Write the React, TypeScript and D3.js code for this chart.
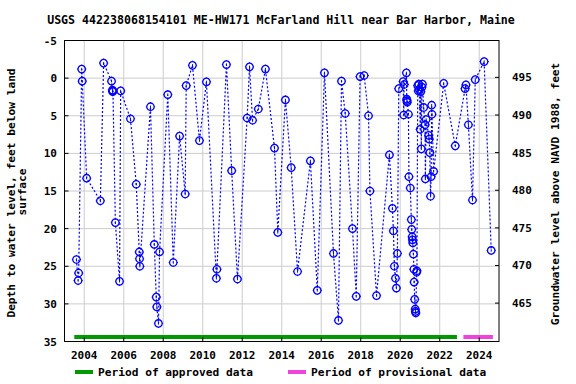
import React from 'react';
import * as d3 from 'd3';

const TITLE = 'USGS 442238068154101 ME-HW171 McFarland Hill near Bar Harbor, Maine';

// sample dates and depth to water (ft below land surface)
const dates = [
  '2003-08-10', '2003-09-10', '2003-09-20', '2003-11-15', '2003-11-25', '2004-02-15', '2004-10-25', '2004-12-25',
  '2005-05-20', '2005-06-05', '2005-06-10', '2005-06-15', '2005-07-30', '2005-10-15', '2005-11-05', '2006-05-05',
  '2006-08-20', '2006-10-15', '2006-10-20', '2006-10-25', '2007-05-10', '2007-07-20', '2007-08-25', '2007-09-05',
  '2007-10-05', '2007-10-25', '2008-03-25', '2008-07-05', '2008-10-30', '2009-02-10', '2009-03-01', '2009-06-25',
  '2009-11-01', '2010-03-10', '2010-09-10', '2010-09-20', '2011-03-15', '2011-06-20', '2011-10-05', '2012-04-01',
  '2012-05-15', '2012-07-10', '2012-10-25', '2013-03-05', '2013-08-20', '2013-10-20', '2014-03-10', '2014-06-25',
  '2014-10-20', '2015-06-15', '2015-10-20', '2016-03-01', '2016-08-15', '2016-11-15', '2017-01-10', '2017-03-20',
  '2017-08-01', '2017-10-10', '2017-12-20', '2018-03-05', '2018-05-25', '2018-06-20', '2018-10-20', '2019-06-15',
  '2019-08-10', '2019-08-28', '2019-09-15', '2019-10-05', '2019-10-22', '2019-11-10', '2019-12-05', '2020-02-25',
  '2020-03-05', '2020-03-15', '2020-04-25', '2020-05-01', '2020-05-05', '2020-05-10', '2020-06-01', '2020-06-10',
  '2020-07-05', '2020-07-25', '2020-08-01', '2020-08-10', '2020-08-15', '2020-08-22', '2020-09-01', '2020-09-10',
  '2020-09-15', '2020-09-25', '2020-10-05', '2020-10-10', '2020-10-15', '2020-10-30', '2020-11-05', '2020-11-20',
  '2020-12-01', '2020-12-10', '2020-12-20', '2021-01-05', '2021-01-15', '2021-01-25', '2021-02-05', '2021-02-15',
  '2021-03-10', '2021-04-05', '2021-04-10', '2021-04-25', '2021-06-10', '2021-06-20', '2021-07-01', '2021-07-15',
  '2021-07-25', '2021-08-05', '2021-08-10', '2021-09-10', '2022-03-15', '2022-10-15', '2023-04-15', '2023-05-01',
  '2023-06-15', '2023-08-30', '2023-10-20', '2024-04-01', '2024-08-10'
];
const depths = [
  24.1, 26.9, 25.9, -1.2, 0.4, 13.3, 16.3, -2.0,
  0.4, 1.6, 1.8, 1.7, 19.2, 27.0, 1.7, 5.4,
  14.1, 23.1, 24.0, 25.0, 3.8, 22.1, 29.1, 30.4,
  32.6, 23.1, 2.2, 24.5, 7.7, 15.4, 1.0, -1.7,
  8.3, 0.5, 26.6, 25.4, -1.8, 12.3, 26.7, 5.3,
  -1.5, 5.6, 4.1, -1.2, 9.3, 20.5, 2.9, 11.9,
  25.7, 11.0, 28.2, -0.7, 23.3, 32.2, 0.4, 4.7,
  20.0, 29.0, -0.2, -0.35, 5.0, 15.0, 28.9, 10.2,
  17.3, 20.3, 25.0, 26.6, 27.9, 23.3, 1.4, 0.45,
  4.9, 0.85, -0.7, 2.8, 3.0, 3.2, 4.8, 13.1,
  14.6, 18.8, 20.1, 21.1, 21.5, 21.9, 23.4, 25.4,
  27.1, 29.4, 30.7, 31.0, 31.2, 25.8, 25.6, 1.0,
  1.7, 0.8, 1.5, 6.8, 1.8, 9.4, 1.2, 0.8,
  3.9, 6.2, 13.4, 5.5, 7.6, 8.1, 9.9, 15.7,
  13.1, 3.6, 4.8, 12.4, 0.7, 9.0, 1.4, 0.9,
  6.2, 16.2, 0.2, -2.2, 22.9
];

const landSurface = 494.9;
const depthTicks = [-5, 0, 5, 10, 15, 20, 25, 30, 35];
const elevTicks = [465, 470, 475, 480, 485, 490, 495];
const yearTicks = [2004, 2006, 2008, 2010, 2012, 2014, 2016, 2018, 2020, 2022, 2024];

const approvedPeriod = ['2003-07-01', '2022-11-15'];
const provisionalPeriod = ['2023-03-15', '2024-09-10'];

const W = 576;
const H = 384;
const left = 64.5, right = 499, top = 40.5, bottom = 341.5;
const FONT = '"DejaVu Sans Mono", monospace';
const BLUE = '#0000ff';
const GREEN = '#009900';
const PINK = '#ee44dd';

export default function App() {
  const parse = d3.timeParse('%Y-%m-%d');
  const x = d3.scaleTime()
    .domain([new Date(2003, 0, 1), new Date(2025, 0, 1)])
    .range([left, right]);
  const y = d3.scaleLinear().domain([-5, 35]).range([top, bottom]);
  const yR = d3.scaleLinear().domain([landSurface + 5, landSurface - 35]).range([top, bottom]);

  const pts = dates.map((d, i) => ({ t: parse(d) as Date, v: depths[i] }));
  const line = d3.line<{ t: Date; v: number }>().x(d => x(d.t)).y(d => y(d.v));

  const barY = 337;

  return (
    <div style={{ position: 'absolute', left: 0, top: 0 }}>
      <svg width={W} height={H} style={{ display: 'block', background: '#fff' }}>
        <text x={281} y={24} textAnchor="middle" fontFamily={FONT} fontWeight="bold" fontSize={11.6}>{TITLE}</text>

        {/* grid */}
        {depthTicks.map(t => (
          <line key={'gy' + t} x1={left} x2={right} y1={y(t)} y2={y(t)} stroke="#cccccc" strokeWidth={1} />
        ))}
        {yearTicks.map(t => {
          const xx = x(new Date(t, 0, 1));
          return <line key={'gx' + t} x1={xx} x2={xx} y1={top} y2={bottom} stroke="#cccccc" strokeWidth={1} />;
        })}

        {/* period bars */}
        <line x1={x(parse(approvedPeriod[0]) as Date)} x2={x(parse(approvedPeriod[1]) as Date)} y1={barY} y2={barY} stroke={GREEN} strokeWidth={4} />
        <line x1={x(parse(provisionalPeriod[0]) as Date)} x2={x(parse(provisionalPeriod[1]) as Date)} y1={barY} y2={barY} stroke={PINK} strokeWidth={4} />

        {/* data */}
        <path d={line(pts) || ''} fill="none" stroke={BLUE} strokeWidth={1.2} strokeDasharray="2,2" />
        {pts.map((p, i) => {
          const cx = x(p.t), cy = y(p.v);
          return (
            <g key={i} transform={`translate(${cx},${cy})`} stroke={BLUE} strokeWidth={1.3} fill="none">
              <circle r={3.7} />
              <line x1={0} x2={0} y1={-4.6} y2={-3.7} strokeWidth={1} />
              <line x1={0} x2={0} y1={3.7} y2={4.6} strokeWidth={1} />
              <line x1={-4.6} x2={-3.7} y1={0} y2={0} strokeWidth={1} />
              <line x1={3.7} x2={4.6} y1={0} y2={0} strokeWidth={1} />
              <line x1={0} x2={0} y1={-1.2} y2={1.2} strokeWidth={1} />
            </g>
          );
        })}

        {/* frame */}
        <rect x={left} y={top} width={right - left} height={bottom - top} fill="none" stroke="#000" strokeWidth={1} />

        {/* left axis */}
        {depthTicks.map(t => (
          <g key={'ly' + t}>
            <line x1={left} x2={left + 4} y1={y(t)} y2={y(t)} stroke="#000" />
            <text x={57} y={y(t) + 4} textAnchor="end" fontFamily={FONT} fontWeight="bold" fontSize={11}>{t}</text>
          </g>
        ))}
        {/* right axis */}
        {elevTicks.map(t => (
          <g key={'ry' + t}>
            <line x1={right - 4} x2={right} y1={yR(t)} y2={yR(t)} stroke="#000" />
            <text x={512} y={yR(t) + 4} textAnchor="start" fontFamily={FONT} fontWeight="bold" fontSize={11}>{t}</text>
          </g>
        ))}
        {/* bottom axis */}
        {yearTicks.map(t => {
          const xx = x(new Date(t, 0, 1));
          return (
            <g key={'xt' + t}>
              <line x1={xx} x2={xx} y1={bottom} y2={bottom - 4} stroke="#000" />
              <text x={xx} y={359} textAnchor="middle" fontFamily={FONT} fontWeight="bold" fontSize={11}>{t}</text>
            </g>
          );
        })}

        {/* axis titles */}
        <text transform="translate(15,193) rotate(-90)" textAnchor="middle" fontFamily={FONT} fontWeight="bold" fontSize={11.2}>
          Depth to water level, feet below land
        </text>
        <text transform="translate(26,192) rotate(-90)" textAnchor="middle" fontFamily={FONT} fontWeight="bold" fontSize={11.2}>
          surface
        </text>
        <text transform="translate(559,194) rotate(-90)" textAnchor="middle" fontFamily={FONT} fontWeight="bold" fontSize={11.2}>
          Groundwater level above NAVD 1988, feet
        </text>

        {/* legend */}
        <line x1={75} x2={93} y1={372} y2={372} stroke={GREEN} strokeWidth={4} />
        <text x={98} y={376} fontFamily={FONT} fontWeight="bold" fontSize={11.2}>Period of approved data</text>
        <line x1={288} x2={306} y1={372} y2={372} stroke={PINK} strokeWidth={4} />
        <text x={311} y={376} fontFamily={FONT} fontWeight="bold" fontSize={11.2}>Period of provisional data</text>
      </svg>
    </div>
  );
}
